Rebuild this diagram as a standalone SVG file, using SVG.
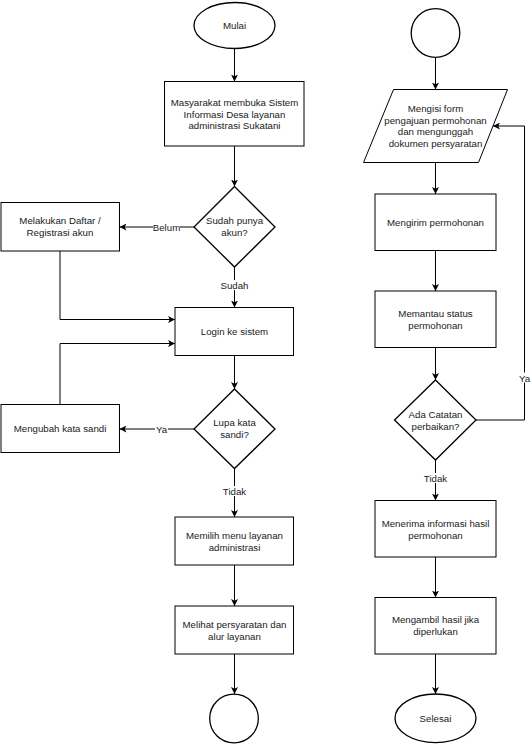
<svg xmlns="http://www.w3.org/2000/svg" width="531" height="744" viewBox="0 0 531 744">
<style>
.shape{fill:#fff;stroke:#000;stroke-width:1}
.term{fill:#fff;stroke:#000;stroke-width:1.3}
.dec{fill:#fff;stroke:#000;stroke-width:1.3}
.t{font-family:"Liberation Sans",Arial,sans-serif;font-size:9.7px;fill:#1a1a1a;text-anchor:middle;dominant-baseline:central}
.conn path{fill:none;stroke:#000;stroke-width:1}
.lblbg{fill:#fff;stroke:none}
</style>
<defs>
<marker id="arr" markerUnits="userSpaceOnUse" markerWidth="8" markerHeight="7" refX="7" refY="3.5" orient="auto">
<path d="M0,0 L7,3.5 L0,7 L1.8,3.5 z" fill="#000"/>
</marker>
</defs>
<rect width="531" height="744" fill="#fff"/>

<g id="connectors" class="conn">
<path d="M234.5,48.5 V81.5" marker-end="url(#arr)"/>
<path d="M234.5,146 V186.5" marker-end="url(#arr)"/>
<path d="M194,227 H119.5" marker-end="url(#arr)"/>
<path d="M60,251 V319.5 H175" marker-end="url(#arr)"/>
<path d="M234.5,267 V307.5" marker-end="url(#arr)"/>
<path d="M234.5,355.5 V389" marker-end="url(#arr)"/>
<path d="M194,429 H119.5" marker-end="url(#arr)"/>
<path d="M60,404.5 V343.5 H175" marker-end="url(#arr)"/>
<path d="M234.5,468.5 V517" marker-end="url(#arr)"/>
<path d="M234.5,565 V606" marker-end="url(#arr)"/>
<path d="M234.5,654 V694" marker-end="url(#arr)"/>
<path d="M435.5,57.5 V89.5" marker-end="url(#arr)"/>
<path d="M435.5,162.5 V194" marker-end="url(#arr)"/>
<path d="M435.5,250.5 V291" marker-end="url(#arr)"/>
<path d="M435.5,347.5 V380" marker-end="url(#arr)"/>
<path d="M476,420 H524.5 V126 H493" marker-end="url(#arr)"/>
<path d="M435.5,460 V500.5" marker-end="url(#arr)"/>
<path d="M435.5,557 V597.5" marker-end="url(#arr)"/>
<path d="M435.5,654 V694" marker-end="url(#arr)"/>
<g id="labels">
<rect class="lblbg" x="153" y="222" width="27" height="10"/>
<text class="t" x="166.5" y="227">Belum</text>
<rect class="lblbg" x="220" y="280" width="29" height="10"/>
<text class="t" x="234.5" y="285">Sudah</text>
<rect class="lblbg" x="155" y="424" width="13" height="10"/>
<text class="t" x="161.5" y="429.5">Ya</text>
<rect class="lblbg" x="222" y="486" width="25" height="10"/>
<text class="t" x="234.5" y="491">Tidak</text>
<rect class="lblbg" x="518" y="372.5" width="13" height="10"/>
<text class="t" x="524.5" y="378">Ya</text>
<rect class="lblbg" x="423" y="473" width="25" height="10"/>
<text class="t" x="435.5" y="478.5">Tidak</text>
</g>
</g>

<g id="mulai">
<ellipse class="term" cx="234.5" cy="25.5" rx="40.5" ry="23"/>
<text class="t" x="234.5" y="25">Mulai</text>
</g>
<g id="buka-sistem">
<rect class="shape" x="164.5" y="81.5" width="139.5" height="64.5"/>
<text class="t" x="234.5" y="102.5">Masyarakat membuka Sistem</text>
<text class="t" x="234.5" y="114">Informasi Desa layanan</text>
<text class="t" x="234.5" y="125.5">administrasi Sukatani</text>
</g>
<g id="punya-akun">
<path class="dec" d="M234.5,186.5 L275,227 L234.5,267 L194,227 Z"/>
<text class="t" x="234.5" y="220.5">Sudah punya</text>
<text class="t" x="234.5" y="232.5">akun?</text>
</g>
<g id="registrasi">
<rect class="shape" x="1" y="202.5" width="118.5" height="48.5"/>
<text class="t" x="60" y="220.5">Melakukan Daftar /</text>
<text class="t" x="60" y="232.5">Registrasi akun</text>
</g>
<g id="login">
<rect class="shape" x="175" y="307.5" width="118.5" height="48"/>
<text class="t" x="234.5" y="331.5">Login ke sistem</text>
</g>
<g id="lupa-sandi">
<path class="dec" d="M234.5,389 L275,429 L234.5,468.5 L194,429 Z"/>
<text class="t" x="234.5" y="422.5">Lupa kata</text>
<text class="t" x="234.5" y="434.5">sandi?</text>
</g>
<g id="ubah-sandi">
<rect class="shape" x="1" y="404.5" width="118.5" height="48"/>
<text class="t" x="60" y="428">Mengubah kata sandi</text>
</g>
<g id="pilih-menu">
<rect class="shape" x="175" y="517" width="118.5" height="48"/>
<text class="t" x="234.5" y="535">Memilih menu layanan</text>
<text class="t" x="234.5" y="547">administrasi</text>
</g>
<g id="lihat-syarat">
<rect class="shape" x="175" y="606" width="118.5" height="48"/>
<text class="t" x="234.5" y="624">Melihat persyaratan dan</text>
<text class="t" x="234.5" y="636">alur layanan</text>
</g>
<g id="konektor-a">
<circle class="term" cx="234" cy="718.5" r="24.3"/>
</g>

<g id="konektor-b">
<circle class="term" cx="435.5" cy="33" r="24.3"/>
</g>
<g id="isi-form">
<path class="shape" d="M393.5,89.5 H507.5 L478.5,162.5 H363.5 Z"/>
<text class="t" x="435.5" y="108.5">Mengisi form</text>
<text class="t" x="435.5" y="120">pengajuan permohonan</text>
<text class="t" x="435.5" y="131.8">dan mengunggah</text>
<text class="t" x="435.5" y="143.5">dokumen persyaratan</text>
</g>
<g id="kirim">
<rect class="shape" x="375" y="194" width="121" height="56.5"/>
<text class="t" x="435.5" y="222">Mengirim permohonan</text>
</g>
<g id="pantau">
<rect class="shape" x="375" y="291" width="121" height="56.5"/>
<text class="t" x="435.5" y="313.5">Memantau status</text>
<text class="t" x="435.5" y="325.3">permohonan</text>
</g>
<g id="catatan">
<path class="dec" d="M435.5,380 L476,420 L435.5,460 L394.5,420 Z"/>
<text class="t" x="435.5" y="414.5">Ada Catatan</text>
<text class="t" x="435.5" y="426.3">perbaikan?</text>
</g>
<g id="terima">
<rect class="shape" x="375" y="500.5" width="121" height="56.5"/>
<text class="t" x="435.5" y="523.5">Menerima informasi hasil</text>
<text class="t" x="435.5" y="535.3">permohonan</text>
</g>
<g id="ambil">
<rect class="shape" x="375" y="597.5" width="121" height="56.5"/>
<text class="t" x="435.5" y="619.5">Mengambil hasil jika</text>
<text class="t" x="435.5" y="631.3">diperlukan</text>
</g>
<g id="selesai">
<ellipse class="term" cx="435.5" cy="718.3" rx="40.5" ry="24.3"/>
<text class="t" x="435.5" y="718.3">Selesai</text>
</g>
</svg>
